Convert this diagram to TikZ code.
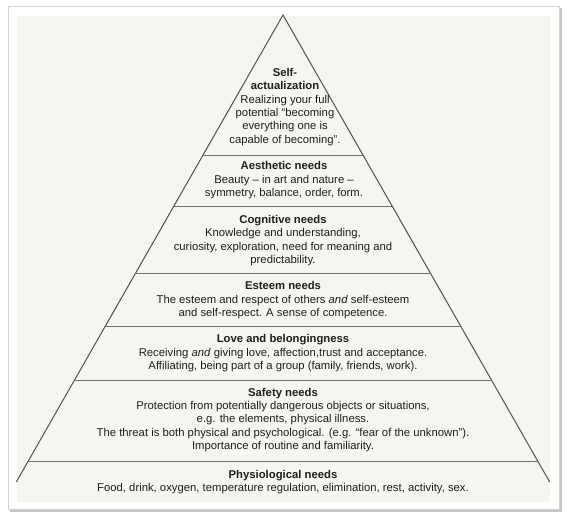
\documentclass[tikz,border=0pt]{standalone}
\usepackage{fontspec}
\setmainfont{Liberation Sans}
\usetikzlibrary{calc}
\definecolor{panel}{HTML}{F6F5F1}
\definecolor{ink}{HTML}{1E1E1E}
\definecolor{side}{HTML}{505050}
\definecolor{sep}{HTML}{707070}
\tikzset{
  lvl/.style={align=center, inner sep=0pt, text=ink, font=\fontsize{11.3}{13.3}\selectfont},
  sideline/.style={draw=side, line width=1pt},
  sepline/.style={draw=sep, line width=1pt},
}
\begin{document}
\begin{tikzpicture}[x=1pt,y=-1pt]
\useasboundingbox (0,0) rectangle (567,522);
% frame with shadow
\fill[gray!45] (10,8) rectangle (562,512);
\fill[white, draw=gray!35] (8,6) rectangle (559,509);
\fill[panel] (17,16) rectangle (550,502);
% pyramid
\coordinate (apex) at (283,15);
\coordinate (bl) at (16.3,482);
\coordinate (br) at (549.7,482);
\draw[sideline] (bl) -- (apex) -- (br);
\foreach \t in {0.2998,0.4105,0.5531,0.6675,0.7831,0.9565}{
  \draw[sepline] ($(apex)!\t!(bl)$) -- ($(apex)!\t!(br)$);
}
% texts
\node[lvl] (self) at (285,107) {\textbf{Self-}\\\textbf{actualization}\\Realizing your full\\potential “becoming\\everything one is\\capable of becoming”.};
\node[lvl] (aes) at (284,180.3) {\textbf{Aesthetic needs}\\Beauty – in art and nature –\\symmetry, balance, order, form.};
\node[lvl] (cog) at (283,240.5) {\textbf{Cognitive needs}\\Knowledge and understanding,\\curiosity, exploration, need for meaning and\\predictability.};
\node[lvl] (est) at (283,300.3) {\textbf{Esteem needs}\\The esteem and respect of others \textit{and} self-esteem\\and self-respect. A sense of competence.};
\node[lvl] (love) at (283,353.3) {\textbf{Love and belongingness}\\Receiving \textit{and} giving love, affection,trust and acceptance.\\Affiliating, being part of a group (family, friends, work).};
\node[lvl] (safe) at (283,420) {\textbf{Safety needs}\\Protection from potentially dangerous objects or situations,\\e.g. the elements, physical illness.\\The threat is both physical and psychological. (e.g. “fear of the unknown”).\\Importance of routine and familiarity.};
\node[lvl] (phys) at (283,482.3) {\textbf{Physiological needs}\\Food, drink, oxygen, temperature regulation, elimination, rest, activity, sex.};
\end{tikzpicture}
\end{document}
